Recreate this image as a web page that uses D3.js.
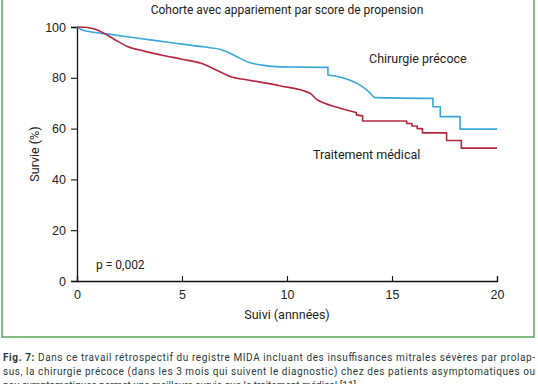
<!DOCTYPE html>
<html>
<head>
<meta charset="utf-8">
<script src="https://cdn.jsdelivr.net/npm/d3@7"></script>
<style>
  body { margin: 0; background: #fff; }
  svg { display: block; }
</style>
</head>
<body>
<div id="chart"></div>
<script>
// Kaplan-Meier survival (years, %)
const surgeryTimes = [0, 0.2, 0.5, 1.5, 3, 4.5, 6, 6.8, 7.5, 8.2, 8.8, 9.5, 10.5, 11.95, 11.95, 12.5, 13.0, 13.5, 13.9, 14.2, 16.95, 16.95, 17.3, 17.3, 18.24, 18.24, 20];
const surgeryValues = [100, 99, 98.3, 97.2, 95.5, 93.8, 92.2, 91.2, 88.8, 86, 85, 84.4, 84.2, 84.1, 81.1, 80.3, 79, 77, 74.5, 72.2, 71.9, 68.6, 68.6, 64.7, 64.7, 59.8, 59.8];

const medicalTimes = [0, 0.5, 0.9, 1.3, 1.8, 2.4, 3.2, 4.0, 5.0, 5.9, 6.8, 7.4, 8.0, 8.6, 9.7, 11.1, 11.4, 11.7, 12.5, 13.3, 13.3, 13.6, 13.6, 15.7, 15.7, 15.95, 15.95, 16.2, 16.2, 16.45, 16.45, 17.6, 17.6, 18.3, 18.3, 20];
const medicalValues = [100, 99.8, 99, 97.5, 95, 92.3, 90.5, 89, 87.3, 85.7, 82.4, 80.2, 79.3, 78.5, 76.8, 73.9, 71.5, 70.3, 68.1, 66.3, 65.4, 65.0, 63.0, 63.0, 62.0, 62.0, 61.0, 61.0, 60.0, 60.0, 58.3, 58.3, 55.3, 55.3, 52.3, 52.3];

const xTicks = [0, 5, 10, 15, 20];
const yTicks = [0, 20, 40, 60, 80, 100];

const seriesNames = ['Chirurgie précoce', 'Traitement médical'];
const seriesColors = ['#3ba7d6', '#b3283f'];

const captionLines = [
  ['Fig. 7: ', 'Dans ce travail rétrospectif du registre MIDA incluant des insuffisances mitrales sévères par prolap-'],
  ['', 'sus, la chirurgie précoce (dans les 3 mois qui suivent le diagnostic) chez des patients asymptomatiques ou'],
  ['', 'peu symptomatiques permet une meilleure survie que le traitement médical [11].']
];

const width = 538, height = 384;
const margin = { top: 27, right: 41, bottom: 103, left: 77 };

const svg = d3.select('#chart').append('svg')
  .attr('width', width)
  .attr('height', height)
  .style('font-family', 'Roboto, sans-serif');

// green frame around the figure
svg.append('rect')
  .attr('x', 2)
  .attr('y', -10)
  .attr('width', 532)
  .attr('height', 347)
  .attr('fill', 'none')
  .attr('stroke', '#5fae5f')
  .attr('stroke-width', 1.6);

const x = d3.scaleLinear().domain([0, 20]).range([margin.left, width - margin.right]);
const y = d3.scaleLinear().domain([0, 100]).range([height - margin.bottom, margin.top]);

const xAxis = d3.axisBottom(x).tickValues(xTicks).tickSize(-5).tickPadding(9);
const yAxis = d3.axisLeft(y).tickValues(yTicks).tickSize(6).tickPadding(5);

svg.append('g')
  .attr('transform', `translate(0,${y(0)})`)
  .call(xAxis);

svg.append('g')
  .attr('transform', `translate(${x(0)},0)`)
  .call(yAxis);

svg.selectAll('.domain')
  .attr('stroke', '#111')
  .attr('stroke-width', 1.3);

svg.selectAll('.tick line')
  .attr('stroke', '#111')
  .attr('stroke-width', 1.1);

svg.selectAll('.tick text')
  .attr('fill', '#222')
  .style('font-size', '12.5px');

// survival curves: smooth runs joined by vertical drops where a time repeats
const smooth = d3.line()
  .x(d => x(d[0]))
  .y(d => y(d[1]))
  .curve(d3.curveMonotoneX);

function curvePath(points) {
  const runs = [];
  let run = [points[0]];
  for (let i = 1; i < points.length; i++) {
    if (points[i][0] === points[i - 1][0]) {
      runs.push(run);
      run = [points[i]];
    } else {
      run.push(points[i]);
    }
  }
  runs.push(run);
  return runs.map((r, i) => {
    const d = r.length > 1 ? smooth(r) : `M${x(r[0][0])},${y(r[0][1])}`;
    return i === 0 ? d : 'L' + d.slice(1);
  }).join('');
}

const curves = [
  d3.zip(surgeryTimes, surgeryValues),
  d3.zip(medicalTimes, medicalValues)
];

svg.append('g').selectAll('path')
  .data(curves)
  .join('path')
  .attr('d', curvePath)
  .attr('fill', 'none')
  .attr('stroke', (d, i) => seriesColors[i])
  .attr('stroke-width', 1.6)
  .attr('stroke-linejoin', 'round');

// title
svg.append('text')
  .attr('x', 287)
  .attr('y', 14)
  .attr('text-anchor', 'middle')
  .attr('fill', '#222')
  .style('font-size', '12px')
  .text('Cohorte avec appariement par score de propension');

// series labels
svg.append('text')
  .attr('x', 369)
  .attr('y', 63)
  .attr('fill', '#222')
  .style('font-size', '12.5px')
  .text(seriesNames[0]);

svg.append('text')
  .attr('x', 313)
  .attr('y', 159)
  .attr('fill', '#222')
  .style('font-size', '12.5px')
  .text(seriesNames[1]);

svg.append('text')
  .attr('x', 96)
  .attr('y', 269)
  .attr('fill', '#222')
  .style('font-size', '12px')
  .text('p = 0,002');

// axis titles
svg.append('text')
  .attr('x', x(10))
  .attr('y', 319)
  .attr('text-anchor', 'middle')
  .attr('fill', '#222')
  .style('font-size', '12.5px')
  .text('Suivi (annnées)');

svg.append('text')
  .attr('transform', `translate(39,${y(50)}) rotate(-90)`)
  .attr('text-anchor', 'middle')
  .attr('fill', '#222')
  .style('font-size', '12.5px')
  .text('Survie (%)');

// caption (third line is cropped by the page edge, as in the source)
const caption = svg.append('g');
captionLines.forEach((parts, i) => {
  const t = caption.append('text')
    .attr('x', 3)
    .attr('y', 361 + i * 14)
    .attr('fill', '#2c3a3a')
    .style('font-size', '10px');
  if (i < 2) {
    t.attr('textLength', 532).attr('lengthAdjust', 'spacing');
  }
  if (parts[0]) {
    t.append('tspan').style('font-weight', 'bold').text(parts[0]);
  }
  t.append('tspan').text(parts[1]);
});
</script>
</body>
</html>
